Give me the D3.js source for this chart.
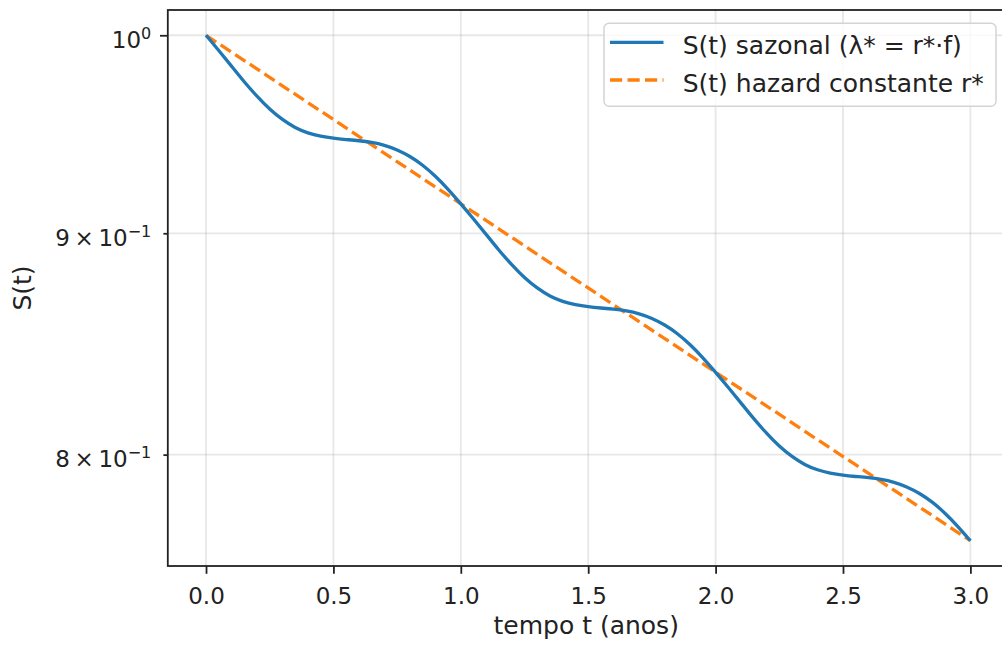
<!DOCTYPE html>
<html>
<head>
<meta charset="utf-8">
<script src="https://cdn.jsdelivr.net/npm/d3@7"></script>
<style>
  html, body { margin: 0; padding: 0; background: #fff; }
  svg text { font-family: "DejaVu Sans", sans-serif; fill: #222; }
</style>
</head>
<body>
<div id="chart"></div>
<script>
// tempo t (anos), passo de 0.05
var tempo = d3.range(61).map(function(i) { return +(i * 0.05).toFixed(2); });

// S(t) sazonal
var sSazonal = [
    1.00000, 0.99198, 0.98372, 0.97547, 0.96801, 0.96127, 0.95601, 0.95189, 0.94924, 0.94762,
    0.94665, 0.94603, 0.94547, 0.94465, 0.94328, 0.94096, 0.93770, 0.93341, 0.92790, 0.92144,
    0.91425, 0.90692, 0.89937, 0.89182, 0.88500, 0.87884, 0.87403, 0.87027, 0.86784, 0.86636,
    0.86548, 0.86491, 0.86440, 0.86365, 0.86239, 0.86027, 0.85729, 0.85337, 0.84833, 0.84243,
    0.83585, 0.82915, 0.82225, 0.81535, 0.80911, 0.80348, 0.79908, 0.79564, 0.79343, 0.79207,
    0.79126, 0.79074, 0.79027, 0.78959, 0.78844, 0.78650, 0.78378, 0.78019, 0.77559, 0.77019,
    0.76418
];

// S(t) hazard constante: reta no eixo log entre os extremos
var tempoConst = [0, 3];
var sConst = [1.0, 0.76418];

var xTicks = [0.0, 0.5, 1.0, 1.5, 2.0, 2.5, 3.0];
var yMajor = [1.0];
var yMinor = [0.9, 0.8];
var yMinorLabels = ["9", "8"];

var seriesLabels = ["S(t) sazonal (\u03bb* = r*\u00b7f)", "S(t) hazard constante r*"];
var colors = ["#1f77b4", "#ff7f0e"];

var options = {
    width: 1002,
    height: 645,
    margin: {top: 10, left: 167.8},
    plotW: 840.8,
    plotH: 556,
    font: 23,
    labelFont: 25,
    lw: 3.3
};

function drawChart() {
    var m = options.margin,
        w = options.plotW,
        h = options.plotH;

    var svg = d3.select("#chart").append("svg")
        .attr("width", options.width)
        .attr("height", options.height);
    var g = svg.append("g")
        .attr("transform", "translate(" + m.left + "," + m.top + ")");

    // matplotlib style margins (5%)
    var xExt = d3.extent(tempo), xPad = (xExt[1] - xExt[0]) * 0.05;
    var x = d3.scaleLinear().domain([xExt[0] - xPad, xExt[1] + xPad]).range([0, w]);
    var lExt = d3.extent(sSazonal.concat(sConst)).map(Math.log10);
    var lPad = (lExt[1] - lExt[0]) * 0.05;
    var y = d3.scaleLog()
        .domain([Math.pow(10, lExt[0] - lPad), Math.pow(10, lExt[1] + lPad)])
        .range([h, 0]);

    // grid
    var grid = g.append("g").attr("class", "grid");
    grid.selectAll("line.gx").data(xTicks).enter().append("line")
        .attr("x1", function(d) { return x(d); })
        .attr("x2", function(d) { return x(d); })
        .attr("y1", 0).attr("y2", h);
    grid.selectAll("line.gy").data(yMajor.concat(yMinor)).enter().append("line")
        .attr("x1", 0).attr("x2", w)
        .attr("y1", function(d) { return y(d); })
        .attr("y2", function(d) { return y(d); });
    grid.selectAll("line")
        .style("stroke", "#b0b0b0")
        .style("stroke-opacity", 0.3)
        .style("stroke-width", 1.8);

    // lines
    var line = d3.line()
        .x(function(d) { return x(d[0]); })
        .y(function(d) { return y(d[1]); });

    g.append("path")
        .datum(d3.zip(tempoConst, sConst))
        .attr("d", line)
        .style("fill", "none")
        .style("stroke", colors[1])
        .style("stroke-width", options.lw)
        .style("stroke-dasharray", "12.2,5.3");

    g.append("path")
        .datum(d3.zip(tempo, sSazonal))
        .attr("d", line.curve(d3.curveBasis))
        .style("fill", "none")
        .style("stroke", colors[0])
        .style("stroke-width", options.lw);

    // x axis
    var xAxisG = g.append("g")
        .attr("transform", "translate(0," + h + ")")
        .call(d3.axisBottom(x).tickValues(xTicks).tickSize(7.8).tickSizeOuter(0)
            .tickFormat(d3.format(".1f")));
    xAxisG.select(".domain").remove();
    xAxisG.selectAll(".tick text")
        .attr("y", 37.5).attr("dy", null)
        .style("font-size", options.font + "px")
        .style("font-family", "DejaVu Sans");

    // y axis ticks
    var yAxisG = g.append("g")
        .call(d3.axisLeft(y).tickValues(yMajor).tickSize(7.8).tickSizeOuter(0).tickFormat(""));
    var yMinorG = g.append("g")
        .call(d3.axisLeft(y).tickValues(yMinor).tickSize(4.4).tickSizeOuter(0).tickFormat(""));
    yAxisG.select(".domain").remove();
    yMinorG.select(".domain").remove();
    g.selectAll(".tick line").style("stroke", "#222").style("stroke-width", 1.8);

    // y tick labels (mathtext style)
    var labX = -16.5, base = 12.8, fs = options.font, sup = Math.round(fs * 0.7);
    yMajor.forEach(function(v) {
        var t = g.append("text").attr("x", labX).attr("y", y(v) + base)
            .attr("text-anchor", "end").style("font-size", fs + "px");
        t.append("tspan").text("10");
        t.append("tspan").attr("dy", -9).style("font-size", sup + "px").text("0");
    });
    yMinor.forEach(function(v, i) {
        var t = g.append("text").attr("x", labX).attr("y", y(v) + base)
            .attr("text-anchor", "end").style("font-size", fs + "px");
        t.append("tspan").text(yMinorLabels[i] + "\u2009\u00d7\u200910");
        t.append("tspan").attr("dy", -9).style("font-size", sup + "px").text("\u22121");
    });

    // spines
    g.append("rect")
        .attr("x", 0).attr("y", 0).attr("width", w).attr("height", h)
        .style("fill", "none")
        .style("stroke", "#222")
        .style("stroke-width", 1.8);

    // axis labels
    g.append("text")
        .attr("x", w / 2 - 2).attr("y", 624)
        .attr("text-anchor", "middle")
        .style("font-size", options.labelFont + "px")
        .text("tempo t (anos)");
    g.append("text")
        .attr("transform", "translate(" + (-137) + "," + (h / 2) + ") rotate(-90)")
        .attr("text-anchor", "middle")
        .style("font-size", options.labelFont + "px")
        .text("S(t)");

    // legend
    var lg = svg.append("g").attr("transform", "translate(604,23.3)");
    lg.append("rect")
        .attr("width", 392).attr("height", 83).attr("rx", 5)
        .style("fill", "#fff").style("fill-opacity", 0.8)
        .style("stroke", "#d4d4d4").style("stroke-width", 1.5);
    var rows = lg.selectAll("g.row").data(seriesLabels).enter().append("g")
        .attr("transform", function(d, i) { return "translate(0," + (19 + i * 37.7) + ")"; });
    rows.append("line")
        .attr("x1", 6).attr("x2", 59.5).attr("y1", 0).attr("y2", 0)
        .style("stroke", function(d, i) { return colors[i]; })
        .style("stroke-width", options.lw)
        .style("stroke-dasharray", function(d, i) { return i == 1 ? "12.2,5.3" : null; });
    rows.append("text")
        .attr("x", 78.7).attr("y", 12)
        .style("font-size", options.labelFont + "px")
        .text(function(d) { return d; });
}

drawChart();
</script>
</body>
</html>
